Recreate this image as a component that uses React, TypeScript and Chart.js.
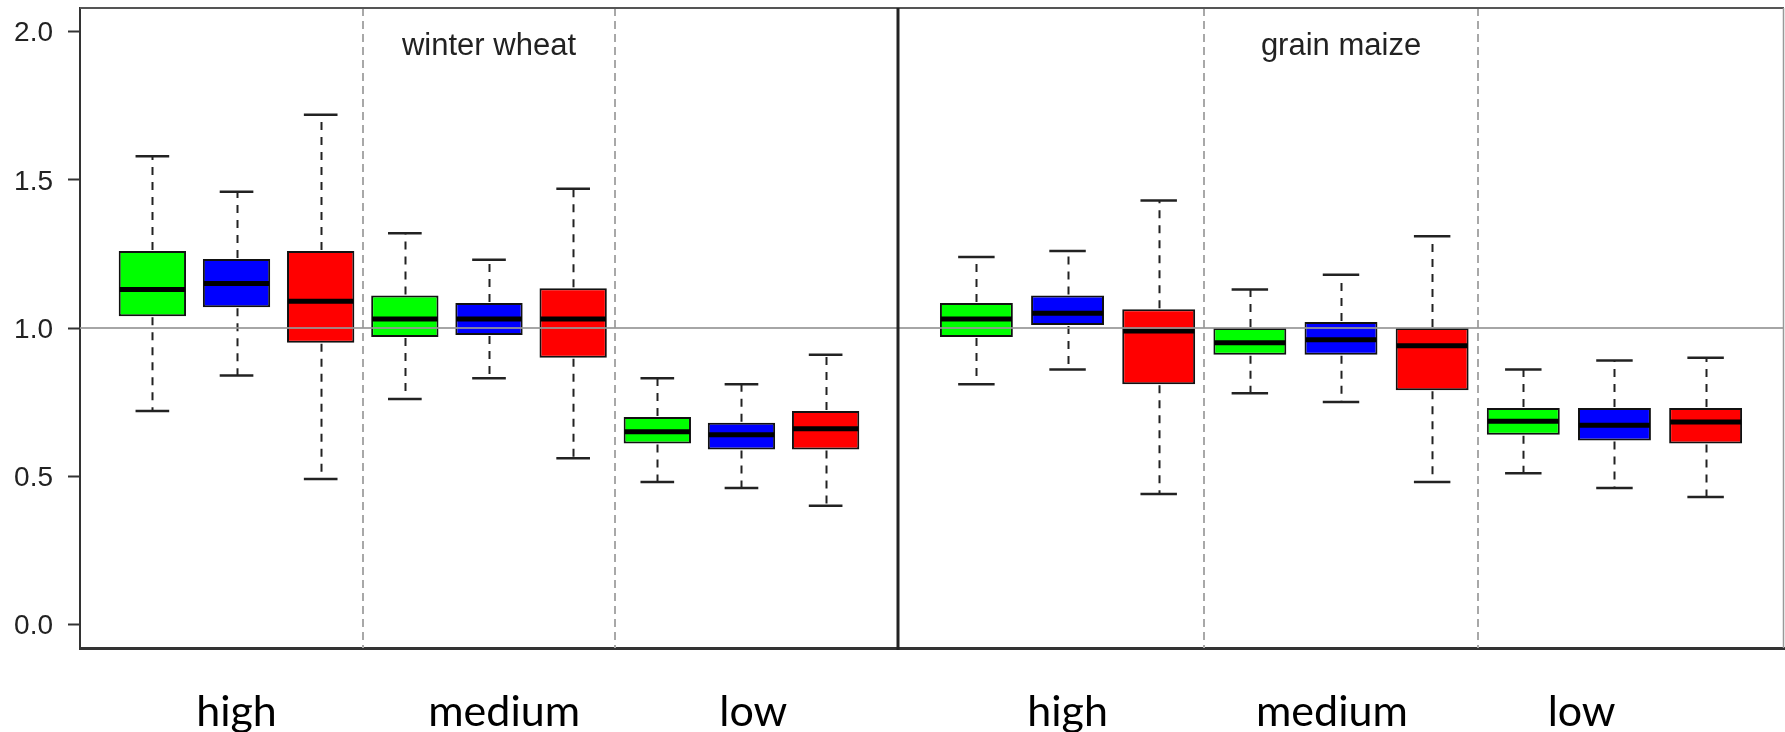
import React, { useEffect, useRef } from 'react';
import { Chart, registerables } from 'chart.js';

Chart.register(...registerables);

// ---- data ----
const boxPositions = [1, 2, 3, 4, 5, 6, 7, 8, 9];
const groupLabels = ['high', 'medium', 'low'];
const seriesColors = ['#00ff00', '#0000ff', '#ff0000'];
const panelTitles = ['winter wheat', 'grain maize'];
const yTickValues = [0, 0.5, 1.0, 1.5, 2.0];
const groupBreaks = [3.5, 6.5];
const referenceLevel = 1.0;
const wheatLabelAt = [2, 5.18, 8.14];
const maizeLabelAt = [2, 4.9, 7.64];

const wheatMin = [0.72, 0.84, 0.49, 0.76, 0.83, 0.56, 0.48, 0.46, 0.40];
const wheatQ1 = [1.04, 1.07, 0.95, 0.97, 0.976, 0.90, 0.61, 0.59, 0.59];
const wheatMedian = [1.13, 1.15, 1.09, 1.03, 1.03, 1.03, 0.65, 0.64, 0.66];
const wheatQ3 = [1.26, 1.233, 1.26, 1.11, 1.084, 1.134, 0.70, 0.68, 0.72];
const wheatMax = [1.58, 1.46, 1.72, 1.32, 1.23, 1.47, 0.83, 0.81, 0.91];

const maizeMin = [0.81, 0.86, 0.44, 0.78, 0.75, 0.48, 0.51, 0.46, 0.43];
const maizeQ1 = [0.97, 1.01, 0.81, 0.91, 0.91, 0.79, 0.64, 0.62, 0.61];
const maizeMedian = [1.03, 1.05, 0.99, 0.95, 0.96, 0.94, 0.685, 0.672, 0.683];
const maizeQ3 = [1.084, 1.11, 1.063, 1.0, 1.02, 1.0, 0.73, 0.73, 0.73];
const maizeMax = [1.24, 1.26, 1.43, 1.13, 1.18, 1.31, 0.86, 0.89, 0.90];

const panels = [
  { scaleId: 'x1', title: panelTitles[0], labelAt: wheatLabelAt, min: wheatMin, q1: wheatQ1, med: wheatMedian, q3: wheatQ3, max: wheatMax },
  { scaleId: 'x2', title: panelTitles[1], labelAt: maizeLabelAt, min: maizeMin, q1: maizeQ1, med: maizeMedian, q3: maizeQ3, max: maizeMax },
];

const BOX_HALF = 0.4;
const CAP_HALF = 0.2;

function seg(ctx: CanvasRenderingContext2D, x1: number, y1: number, x2: number, y2: number) {
  ctx.beginPath();
  ctx.moveTo(x1, y1);
  ctx.lineTo(x2, y2);
  ctx.stroke();
}

const boxDecor = {
  id: 'boxDecor',
  beforeDatasetsDraw(chart: any) {
    const { ctx, chartArea, scales } = chart;
    ctx.save();
    ctx.strokeStyle = '#a8a8a8';
    ctx.lineWidth = 2;
    ctx.setLineDash([8, 5]);
    panels.forEach((p) => {
      const xs = scales[p.scaleId];
      groupBreaks.forEach((b) => {
        const x = Math.round(xs.getPixelForValue(b));
        seg(ctx, x, chartArea.top, x, chartArea.bottom);
      });
    });
    ctx.restore();
  },
  afterDatasetsDraw(chart: any) {
    const { ctx, chartArea, scales } = chart;
    const ys = scales.y;
    ctx.save();
    panels.forEach((p) => {
      const xs = scales[p.scaleId];
      boxPositions.forEach((pos, i) => {
        const x = Math.round(xs.getPixelForValue(pos)) + 0.5;
        const capL = xs.getPixelForValue(pos - CAP_HALF);
        const capR = xs.getPixelForValue(pos + CAP_HALF);
        const boxL = xs.getPixelForValue(pos - BOX_HALF);
        const boxR = xs.getPixelForValue(pos + BOX_HALF);
        const yMin = ys.getPixelForValue(p.min[i]);
        const yQ1 = ys.getPixelForValue(p.q1[i]);
        const yMed = ys.getPixelForValue(p.med[i]);
        const yQ3 = ys.getPixelForValue(p.q3[i]);
        const yMax = ys.getPixelForValue(p.max[i]);
        // whiskers
        ctx.strokeStyle = '#222';
        ctx.lineWidth = 2;
        ctx.setLineDash([8, 7]);
        seg(ctx, x, yQ3 - 1, x, yMax);
        seg(ctx, x, yQ1 + 1, x, yMin);
        ctx.setLineDash([]);
        ctx.lineWidth = 2.5;
        seg(ctx, capL, yMax, capR, yMax);
        seg(ctx, capL, yMin, capR, yMin);
        // median
        ctx.strokeStyle = '#000';
        ctx.lineWidth = 5;
        seg(ctx, boxL + 1, yMed, boxR - 1, yMed);
      });
    });
    // reference line
    const yRef = ys.getPixelForValue(referenceLevel);
    ctx.strokeStyle = 'rgba(150,150,150,0.85)';
    ctx.lineWidth = 2;
    seg(ctx, chartArea.left, yRef, chartArea.right, yRef);
    // frame
    ctx.strokeStyle = '#555';
    ctx.lineWidth = 2;
    seg(ctx, chartArea.left, chartArea.top, chartArea.right, chartArea.top);
    ctx.strokeStyle = '#999';
    ctx.lineWidth = 1.5;
    seg(ctx, chartArea.right - 0.5, chartArea.top, chartArea.right - 0.5, chartArea.bottom);
    const xDiv = scales.x2.left;
    ctx.strokeStyle = '#222';
    ctx.lineWidth = 3;
    seg(ctx, xDiv, chartArea.top, xDiv, chartArea.bottom + 2);
    // titles
    ctx.fillStyle = '#222';
    ctx.font = '31px "Liberation Sans", Arial, sans-serif';
    ctx.textAlign = 'center';
    ctx.textBaseline = 'alphabetic';
    panels.forEach((p) => {
      const xs = scales[p.scaleId];
      ctx.fillText(p.title, xs.getPixelForValue(5), 55);
    });
    ctx.restore();
  },
};

function xScale(p: any, weight: number) {
  return {
    type: 'linear',
    axis: 'x',
    position: 'bottom',
    stack: 'panels',
    stackWeight: weight,
    min: 0.14,
    max: 9.86,
    offset: false,
    grid: { display: true, drawOnChartArea: false, drawTicks: false, offset: false },
    border: { display: true, color: '#333', width: 3 },
    afterBuildTicks: (scale: any) => {
      scale.ticks = p.labelAt.map((v: number) => ({ value: v }));
    },
    afterFit: (scale: any) => {
      scale.height = 84;
      scale.paddingLeft = 0;
      scale.paddingRight = 0;
    },
    ticks: {
      autoSkip: false,
      maxRotation: 0,
      minRotation: 0,
      padding: 38,
      color: '#000',
      font: { family: 'Lato, "Open Sans", sans-serif', size: 43 },
      callback: (_v: any, i: number) => groupLabels[i],
    },
  };
}

export default function App() {
  const ref = useRef<HTMLCanvasElement>(null);
  useEffect(() => {
    const chart = new Chart(ref.current as HTMLCanvasElement, {
      type: 'bar',
      data: {
        datasets: panels.map((p) => ({
          type: 'bar',
          label: p.title,
          xAxisID: p.scaleId,
          yAxisID: 'y',
          data: boxPositions.map((x, i) => ({ x, y: [p.q1[i], p.q3[i]] })),
          backgroundColor: boxPositions.map((_, i) => seriesColors[i % 3]),
          borderColor: '#111',
          borderWidth: 2,
          borderSkipped: false,
          barPercentage: 0.8,
          categoryPercentage: 1,
          grouped: false,
        })),
      } as any,
      options: {
        responsive: false,
        animation: false,
        devicePixelRatio: 1,
        layout: { padding: { top: 8, right: 1, left: 0, bottom: 0 } },
        plugins: { legend: { display: false }, tooltip: { enabled: false } },
        scales: {
          x1: xScale(panels[0], 818),
          x2: xScale(panels[1], 886),
          y: {
            type: 'linear',
            position: 'left',
            min: -0.08,
            max: 2.08,
            afterBuildTicks: (scale: any) => {
              scale.ticks = yTickValues.map((v) => ({ value: v }));
            },
            afterFit: (scale: any) => {
              scale.width = 80;
              scale.paddingTop = 0;
              scale.paddingBottom = 0;
            },
            grid: { display: true, drawOnChartArea: false, drawTicks: true, tickLength: 12, tickWidth: 2, tickColor: '#333', color: '#333' },
            border: { display: true, color: '#333', width: 2 },
            ticks: {
              padding: 15,
              labelOffset: 2,
              color: '#222',
              font: { family: '"Liberation Sans", Arial, sans-serif', size: 28 },
              callback: (v: any) => Number(v).toFixed(1),
            },
          },
        } as any,
      },
      plugins: [boxDecor],
    });
    return () => chart.destroy();
  }, []);
  return (
    <div style={{ position: 'absolute', left: 0, top: 0, width: 1785, height: 732, background: '#fff' }}>
      <canvas ref={ref} width={1785} height={732} style={{ display: 'block' }} />
    </div>
  );
}
